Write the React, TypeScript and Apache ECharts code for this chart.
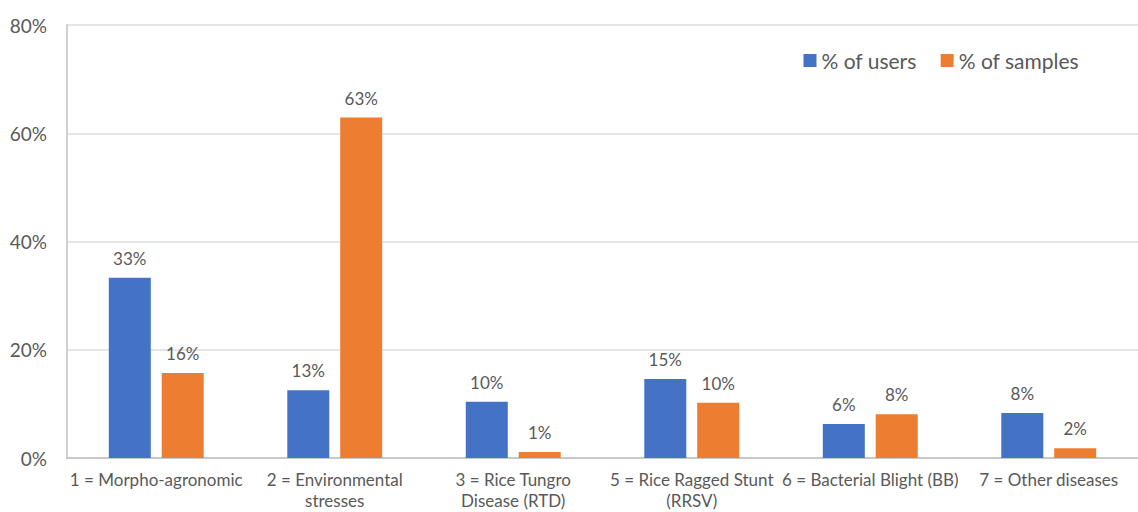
import React, { useEffect, useRef } from "react";
import * as echarts from "echarts";

const categories = [
  "1 = Morpho-agronomic",
  "2 = Environmental\nstresses",
  "3 = Rice Tungro\nDisease (RTD)",
  "5 = Rice Ragged Stunt\n(RRSV)",
  "6 = Bacterial Blight (BB)",
  "7 = Other diseases",
];
const usersPct = [33.3, 12.5, 10.4, 14.6, 6.3, 8.3];
const samplesPct = [15.7, 62.9, 1.1, 10.2, 8.1, 1.8];
const yTicks = [0, 20, 40, 60, 80];

const FONT = "Lato, 'Open Sans', sans-serif";
const TEXT = "#595959";

export default function App() {
  const ref = useRef<HTMLDivElement>(null);
  useEffect(() => {
    if (!ref.current) return;
    const chart = echarts.init(ref.current, null, { renderer: "svg" });
    const label = {
      show: true,
      position: "top",
      distance: 11,
      color: TEXT,
      fontFamily: FONT,
      fontSize: 17,
      formatter: (p: any) => Math.round(p.value) + "%",
    };
    chart.setOption({
      animation: false,
      textStyle: { fontFamily: FONT },
      legend: {
        right: 54,
        top: 45,
        itemWidth: 13,
        itemHeight: 13,
        itemGap: 24,
        icon: "rect",
        textStyle: { color: TEXT, fontSize: 21, fontFamily: FONT },
        data: ["% of users", "% of samples"],
      },
      grid: { left: 67, right: 0, top: 25, bottom: 54, outerBoundsMode: "none", containLabel: false },
      xAxis: {
        type: "category",
        data: categories,
        axisLine: { show: true, lineStyle: { color: "#c8c8c8", width: 2 } },
        axisTick: { show: false },
        axisLabel: {
          color: TEXT,
          fontSize: 17,
          fontFamily: FONT,
          margin: 11,
          lineHeight: 21,
          interval: 0,
        },
      },
      yAxis: {
        type: "value",
        min: yTicks[0],
        max: yTicks[yTicks.length - 1],
        interval: 20,
        axisLine: { show: true, lineStyle: { color: "#d0d0d0", width: 2 } },
        axisTick: { show: false },
        splitLine: { lineStyle: { color: "#dcdcdc", width: 1.5 } },
        axisLabel: {
          color: TEXT,
          fontSize: 19,
          fontFamily: FONT,
          margin: 20,
          formatter: (v: number) => v + "%",
        },
      },
      series: [
        {
          name: "% of users",
          type: "bar",
          data: usersPct,
          barWidth: 42,
          barGap: "26%",
          itemStyle: { color: "#4472C4" },
          label,
        },
        {
          name: "% of samples",
          type: "bar",
          data: samplesPct,
          barWidth: 42,
          itemStyle: { color: "#ED7D31" },
          label,
        },
      ],
    });
    return () => chart.dispose();
  }, []);
  return (
    <div
      ref={ref}
      style={{ position: "fixed", left: 0, top: 0, width: 1138, height: 512, background: "#fff" }}
    />
  );
}
